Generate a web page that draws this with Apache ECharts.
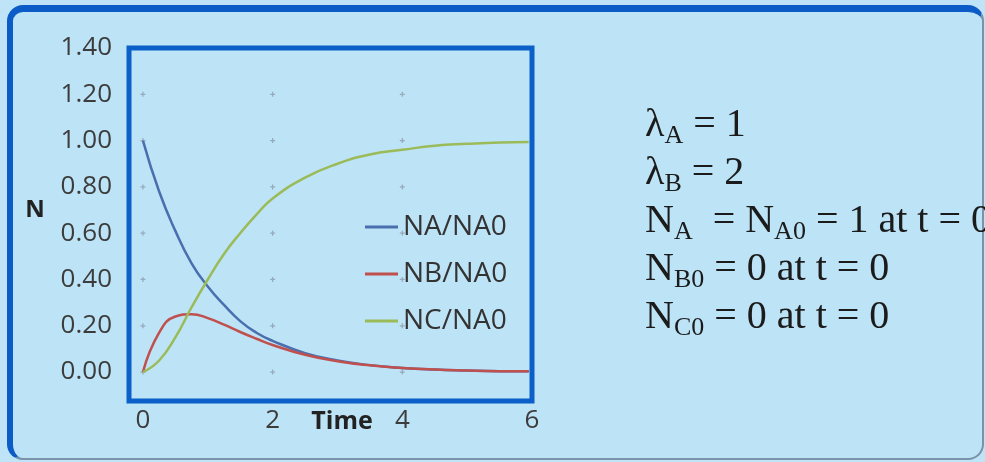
<!DOCTYPE html>
<html><head><meta charset="utf-8">
<script src="https://cdn.jsdelivr.net/npm/echarts@6/dist/echarts.min.js"></script>
<style>
html,body{margin:0;padding:0;background:#bfe4f7;overflow:hidden}
#frame{position:absolute;left:7px;top:5px;width:977px;height:455px;box-sizing:border-box;border-top:7px solid #0b5cc6;border-left:6px solid #0b5cc6;border-right:2px solid #7a93aa;border-bottom:2px solid #7a93aa;border-radius:16px;background:#bde3f6}
#chart{position:absolute;left:0;top:0;width:985px;height:462px}
</style></head><body>
<div id="frame"></div><div id="chart"></div>
<script>
// Values
const time    = [0, 0.25, 0.5, 0.75, 1, 1.25, 1.5, 1.75, 2, 2.5, 3, 3.5, 4, 4.5, 5, 5.5, 5.95];
const naRatio = [1.00, 0.78, 0.61, 0.47, 0.37, 0.29, 0.22, 0.17, 0.135, 0.082, 0.05, 0.03, 0.018, 0.011, 0.007, 0.004, 0.003];
const nbRatio = [0.00, 0.17, 0.24, 0.25, 0.233, 0.205, 0.173, 0.144, 0.117, 0.075, 0.047, 0.029, 0.018, 0.011, 0.007, 0.004, 0.003];
const ncRatio = [0.00, 0.05, 0.15, 0.28, 0.40, 0.51, 0.60, 0.68, 0.75, 0.84, 0.90, 0.94, 0.96, 0.978, 0.986, 0.992, 0.994];
const seriesNames = ['NA/NA0', 'NB/NA0', 'NC/NA0'];
const seriesColors = ['#4a6fae', '#c0504d', '#9bbb59'];
const xTicks = [0, 2, 4, 6];
const yTicks = [0, 0.2, 0.4, 0.6, 0.8, 1.0, 1.2, 1.4];
const gridMarkX = [0, 2, 4];
const gridMarkY = [0, 0.2, 0.4, 0.6, 0.8, 1.0, 1.2];
const xAxisTitle = 'Time';
const yAxisTitle = 'N';
const noteLines = [
  '{m|λ}{s|A}{m| = 1}',
  '{m|λ}{s|B}{m| = 2}',
  '{m|N}{s|A}{m|  = N}{s|A0}{m| = 1 at t = 0}',
  '{m|N}{s|B0}{m| = 0 at t = 0}',
  '{m|N}{s|C0}{m| = 0 at t = 0}'
];

const ratios = [naRatio, nbRatio, ncRatio];
const marks = [];
gridMarkX.forEach(x => gridMarkY.forEach(y => marks.push([x, y])));

const chart = echarts.init(document.getElementById('chart'), null, {renderer: 'canvas'});
const sans = 'Open Sans';
chart.setOption({
  backgroundColor: 'transparent',
  animation: false,
  grid: {left: 129, top: 48, right: 453, bottom: 61, show: true, borderColor: '#0b5fc9', borderWidth: 5,
         backgroundColor: 'rgba(0,0,0,0)', outerBoundsMode: 'none'},
  legend: {
    data: seriesNames, orient: 'vertical', left: 360, top: 207, icon: 'rect',
    itemWidth: 33, itemHeight: 3, itemGap: 17,
    textStyle: {fontSize: 28, fontFamily: sans, color: '#333', lineHeight: 30}
  },
  xAxis: {
    type: 'value', min: -0.215, max: 6,
    axisLine: {show: false, onZero: false}, axisTick: {show: false}, splitLine: {show: false},
    axisLabel: {customValues: xTicks, fontSize: 26, fontFamily: sans, color: '#3c3c3c', margin: 5, lineHeight: 30}
  },
  yAxis: {
    type: 'value', min: -0.125, max: 1.4,
    axisLine: {show: false, onZero: false}, axisTick: {show: false}, splitLine: {show: false},
    axisLabel: {customValues: yTicks, formatter: v => v.toFixed(2), fontSize: 26, fontFamily: sans, color: '#3c3c3c', margin: 17}
  },
  series: [
    {
      type: 'scatter', name: 'grid', data: marks, silent: true, z: 1,
      symbol: 'path://M1.5,0H2.5V1.5H4V2.5H2.5V4H1.5V2.5H0V1.5H1.5Z', symbolSize: 5,
      itemStyle: {color: '#8c9cab'}
    }
  ].concat(seriesNames.map((n, k) => ({
    type: 'line', name: n, smooth: true, symbol: 'none', z: 3,
    data: time.map((t, i) => [t, ratios[k][i]]),
    color: seriesColors[k],
    lineStyle: {width: 2.5, color: seriesColors[k]}
  }))),
  graphic: [
    {
      type: 'text', x: 342, y: 422, silent: true,
      style: {text: xAxisTitle, fontSize: 25, fontWeight: 'bold', fontFamily: sans, fill: '#222', align: 'center', verticalAlign: 'middle'}
    },
    {
      type: 'text', x: 35, y: 210, silent: true,
      style: {text: yAxisTitle, fontSize: 24, fontWeight: 'bold', fontFamily: sans, fill: '#222', align: 'center', verticalAlign: 'middle'}
    },
    {
      type: 'text', left: 645, top: 105, silent: true,
      style: {
        text: noteLines.join('\n'),
        fill: '#1b1b1b',
        rich: {
          m: {fontSize: 40, fontFamily: 'Liberation Serif', fill: '#1b1b1b', lineHeight: 48, verticalAlign: 'middle'},
          s: {fontSize: 26, fontFamily: 'Liberation Serif', fill: '#1b1b1b', lineHeight: 22, verticalAlign: 'bottom'}
        }
      }
    }
  ]
});
</script>
</body></html>
